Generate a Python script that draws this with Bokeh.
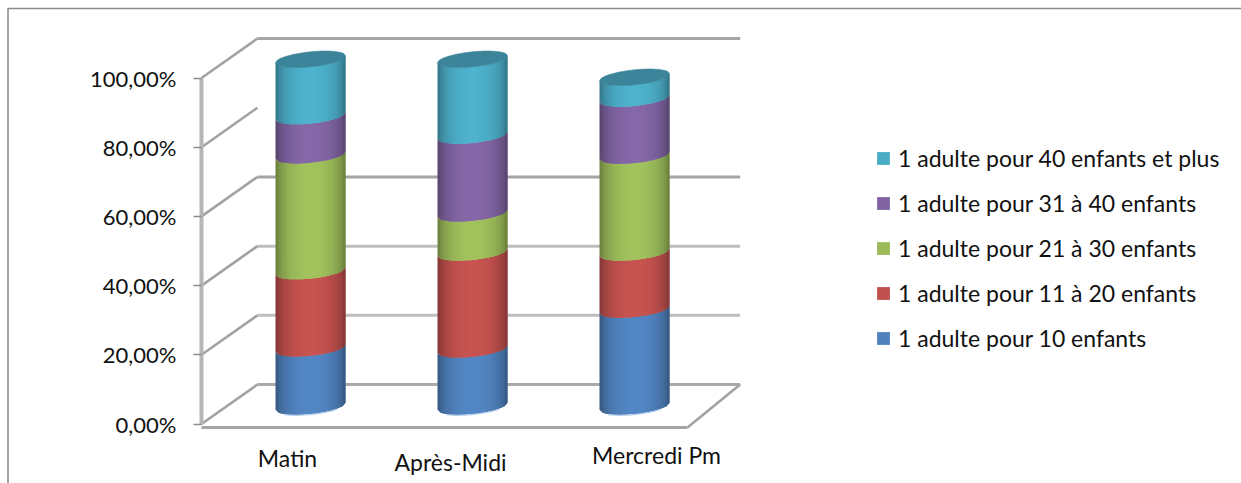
import math
from bokeh.core.properties import value
from bokeh.embed import file_html
from bokeh.models import FixedTicker, Legend, LegendItem, Range1d
from bokeh.plotting import figure
from bokeh.resources import INLINE

# Share of each supervision ratio per time slot, stacked from the bottom up
categories = ["Matin", "Après-Midi", "Mercredi Pm"]
ratio_10 = [16.8, 16.5, 28.0]
ratio_11_20 = [22.3, 28.0, 16.5]
ratio_21_30 = [33.5, 11.3, 28.0]
ratio_31_40 = [11.3, 22.5, 16.5]
ratio_40_plus = [16.4, 22.0, 6.1]
y_ticks = [0, 20, 40, 60, 80, 100]
y_tick_labels = ["0,00%", "20,00%", "40,00%", "60,00%", "80,00%", "100,00%"]
wall_lines = [0, 20, 40, 60, 100]
wall_colors = ["#aaaaaa", "#bebebe", "#bebebe", "#a4a4a4", "#a4a4a4"]

series = [
    ("1 adulte pour 10 enfants", ratio_10, (79, 129, 189)),
    ("1 adulte pour 11 à 20 enfants", ratio_11_20, (192, 80, 77)),
    ("1 adulte pour 21 à 30 enfants", ratio_21_30, (155, 187, 89)),
    ("1 adulte pour 31 à 40 enfants", ratio_31_40, (128, 100, 162)),
    ("1 adulte pour 40 enfants et plus", ratio_40_plus, (75, 172, 198)),
]

# Window size and scale of the pseudo-3D scene
W, H = 1241, 483
PX_X = 162.0   # pixels per category
PX_Y = 3.46    # pixels per percent
X0, Y0 = 201.0, 423.5   # pixel position of category 0 / value 0

# Depth projection, in data units
WALL_DX = 0.345
WALL_DY = 11.4
BAR_DX = 28 / PX_X
BAR_DY = 5.1
BAR_HALF = 35 / PX_X
ELL_B = 7.5 / PX_Y
ELL_T = 3.5 / PX_Y
STRIPS = 24


def xd(px):
    return (px - X0) / PX_X


def yd(px):
    return (Y0 - px) / PX_Y


def hex_shade(rgb, k):
    return "#%02x%02x%02x" % tuple(min(255, int(round(c * k))) for c in rgb)


def shade(u):
    return 0.58 + 0.46 * math.sqrt(max(0.0, 1 - u * u))


def front(base, u):
    # Front arc of a tilted ellipse at height `base`
    return base - ELL_B * math.sqrt(max(0.0, 1 - u * u)) + ELL_T * u


def back(base, u):
    return base + ELL_B * math.sqrt(max(0.0, 1 - u * u)) + ELL_T * u


p = figure(
    width=W, height=H, output_backend="svg", toolbar_location=None,
    x_range=Range1d(xd(0), xd(W)), y_range=Range1d(yd(H), yd(0)),
    min_border=0, min_border_left=0, min_border_right=0,
    min_border_top=0, min_border_bottom=0,
    background_fill_color="white", border_fill_color="white",
)
p.outline_line_color = None
p.grid.visible = False

# Chart-area border along the top and left
p.line([xd(7.5), xd(7.5), xd(W)], [yd(H), yd(8), yd(8)], line_color="#8c8c8c", line_width=1.6)

# Back wall gridlines and the floor/side diagonals
p.multi_line(
    [[WALL_DX, 3 + WALL_DX - 0.02] for _ in wall_lines],
    [[v + WALL_DY, v + WALL_DY] for v in wall_lines],
    line_color=wall_colors, line_width=3,
)
p.multi_line(
    [[0, WALL_DX] for _ in y_ticks],
    [[v, v + WALL_DY] for v in y_ticks],
    line_color="#a2a2a2", line_width=2.6,
)
p.line([3, 3 + WALL_DX - 0.02], [-1, WALL_DY], line_color="#a2a2a2", line_width=2.6)

# Axes drawn inside the frame, at the front edge of the scene
yax = p.yaxis[0]
yax.fixed_location = 0
yax.bounds = (0, 100)
yax.ticker = FixedTicker(ticks=y_ticks)
yax.major_label_overrides = dict(zip(y_ticks, y_tick_labels))
yax.major_label_text_font = "Lato"
yax.major_label_text_font_size = "22px"
yax.major_label_text_color = "#111111"
yax.major_label_standoff = 17
yax.major_tick_in = 0
yax.major_tick_out = 8
yax.major_tick_line_color = "#8c8c8c"
yax.major_tick_line_width = 1.5
yax.minor_tick_line_color = None
yax.axis_line_color = "#b6b6b6"
yax.axis_line_width = 4

xax = p.xaxis[0]
xax.fixed_location = -1
xax.bounds = (0, 3)
xax.ticker = FixedTicker(ticks=[])
xax.major_tick_line_color = None
xax.minor_tick_line_color = None
xax.axis_line_color = "#a6a6a6"
xax.axis_line_width = 3

# Cylinders: each stacked segment is cut into vertical strips for the round shading.
# A strip reaches over its neighbour and the next one paints over it, which leaves no seams.
for i, cat in enumerate(categories):
    cx = i + 0.5 + BAR_DX
    bottom = BAR_DY
    for name, values, rgb in series:
        top = bottom + values[i]
        xs, ys, cols = [], [], []
        for k in range(STRIPS):
            ua = -1 + 2 * k / STRIPS
            ub = -1 + 2 * (k + 1) / STRIPS
            uc = min(1.0, -1 + 2 * (k + 2) / STRIPS)
            us = [ua, ub, uc]
            xs.append([cx + u * BAR_HALF for u in us] + [cx + u * BAR_HALF for u in reversed(us)])
            ys.append([front(bottom, u) for u in us] + [front(top, u) for u in reversed(us)])
            cols.append(hex_shade(rgb, shade((ua + ub) / 2)))
        p.patches(xs, ys, fill_color=cols, line_color=None)
        bottom = top
    # Cap on the top of the stack
    steps = [-1 + 2 * k / 48 for k in range(49)]
    cap_x = [cx + u * BAR_HALF for u in steps] + [cx + u * BAR_HALF for u in reversed(steps)]
    cap_y = [front(bottom, u) for u in steps] + [back(bottom, u) for u in reversed(steps)]
    p.patch(cap_x, cap_y, fill_color="#3b8499", line_color="#3b8499", line_width=0.6)
    # Pale rim under the base
    p.line(
        [cx + u * BAR_HALF for u in steps[6:43]],
        [front(BAR_DY, u) - 0.2 for u in steps[6:43]],
        line_color="#a6c2e6", line_width=1.2, line_alpha=0.8,
    )

# Category names, each with its own placement under the floor
label_dx = [5, 6, 50]
label_baseline = [457, 461, 454]
p.text(
    [i + 0.5 + dx / PX_X for i, dx in enumerate(label_dx)],
    [yd(b) for b in label_baseline],
    text=categories, text_font=value("Lato"), text_font_size="23px",
    text_align="center", text_baseline="alphabetic", text_color="#111111",
)

# Legend swatches, top entry last in the stack; a single blank row gives each entry its colour
blank = float("nan")
items = []
for name, values, rgb in reversed(series):
    r = p.quad(left=[blank], right=[blank], top=[blank], bottom=[blank],
               fill_color=hex_shade(rgb, 1.0), line_color=None)
    items.append(LegendItem(label=name, renderers=[r]))
legend = Legend(
    items=items, location=(875, 131), orientation="vertical",
    background_fill_alpha=0, border_line_color=None,
    padding=0, margin=0, spacing=17, label_height=25, glyph_width=16, glyph_height=16,
    label_standoff=7, label_text_font="Lato", label_text_font_size="23px",
    label_text_color="#111111",
)
p.add_layout(legend, "center")

open("out.html", "w").write(file_html(p, INLINE))
